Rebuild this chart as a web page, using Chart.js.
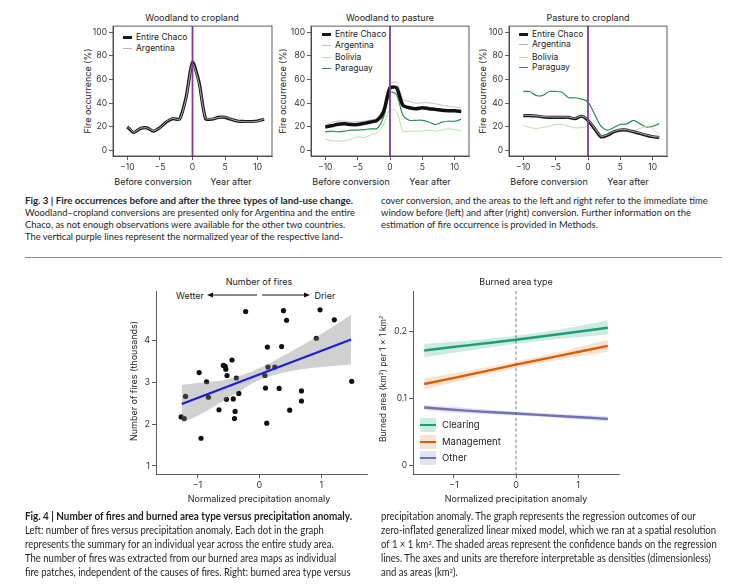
<!DOCTYPE html>
<html>
<head>
<meta charset="utf-8">
<script src="https://cdn.jsdelivr.net/npm/chart.js@4.4.1/dist/chart.umd.min.js"></script>
<style>
  body { margin: 0; width: 733px; height: 587px; position: relative; overflow: hidden; background: #fff; font-family: Inter, "Noto Sans", sans-serif; color: #222; }
  canvas { position: absolute; }
  .t { position: absolute; white-space: nowrap; transform: translate(-50%, -50%); line-height: 1; }
  .rot { transform: translate(-50%, -50%) rotate(-90deg); }
  .lg { position: absolute; white-space: nowrap; transform: translateY(-50%); line-height: 1; font-size: 8.5px; }
  .sw { position: absolute; width: 9px; }
  .cap3, .cap4 { position: absolute; white-space: nowrap; line-height: 1; font-family: Lato, "Noto Sans", sans-serif; color: #1e1e1e; transform-origin: left center; transform: translateY(-50%); }
  .cap3 { font-size: 10px; }
  .cap4 { font-size: 10.5px; }
  .cap3 b, .cap4 b { font-weight: 700; }
  sup { font-size: 0.6em; vertical-align: 0.5em; line-height: 0; }
</style>
</head>
<body>

<!-- Fig. 3 Titel und Achsenbeschriftungen -->
<div class="t" style="left:192px;top:17px;font-size:9px">Woodland to cropland</div>
<div class="t" style="left:390px;top:17px;font-size:9px">Woodland to pasture</div>
<div class="t" style="left:588px;top:17px;font-size:9px">Pasture to cropland</div>

<div class="t rot" style="left:87px;top:91px;font-size:9px">Fire occurrence (%)</div>
<div class="t rot" style="left:282px;top:91px;font-size:9px">Fire occurrence (%)</div>
<div class="t rot" style="left:482px;top:91px;font-size:9px">Fire occurrence (%)</div>

<div class="t" style="left:153px;top:181px;font-size:9px">Before conversion</div>
<div class="t" style="left:231px;top:181px;font-size:9px">Year after</div>
<div class="t" style="left:351px;top:181px;font-size:9px">Before conversion</div>
<div class="t" style="left:430px;top:181px;font-size:9px">Year after</div>
<div class="t" style="left:549px;top:181px;font-size:9px">Before conversion</div>
<div class="t" style="left:628px;top:181px;font-size:9px">Year after</div>

<!-- Legenden Fig. 3 -->
<div class="sw" style="left:123px;top:36px;height:2.5px;background:#1a1a1a"></div>
<div class="lg" style="left:136px;top:37px">Entire Chaco</div>
<div class="sw" style="left:123px;top:47.5px;height:1px;background:#b4b4b4"></div>
<div class="lg" style="left:136px;top:48px">Argentina</div>

<div class="sw" style="left:322px;top:33px;height:2.5px;background:#1a1a1a"></div>
<div class="lg" style="left:335px;top:34px">Entire Chaco</div>
<div class="sw" style="left:322px;top:44.5px;height:1px;background:#c4b8d4"></div>
<div class="lg" style="left:335px;top:45px">Argentina</div>
<div class="sw" style="left:322px;top:56.5px;height:1px;background:#b5dea8"></div>
<div class="lg" style="left:335px;top:57px">Bolivia</div>
<div class="sw" style="left:322px;top:67.5px;height:1.3px;background:#2a8a55"></div>
<div class="lg" style="left:335px;top:68px">Paraguay</div>

<div class="sw" style="left:519px;top:33px;height:2.5px;background:#1a1a1a"></div>
<div class="lg" style="left:532px;top:34px">Entire Chaco</div>
<div class="sw" style="left:519px;top:43.5px;height:1px;background:#b8b0c8"></div>
<div class="lg" style="left:532px;top:44px">Argentina</div>
<div class="sw" style="left:519px;top:56.5px;height:1px;background:#b5dea8"></div>
<div class="lg" style="left:532px;top:57px">Bolivia</div>
<div class="sw" style="left:519px;top:66.5px;height:1.3px;background:#2a8a55"></div>
<div class="lg" style="left:532px;top:67px">Paraguay</div>

<canvas id="wc"></canvas>
<canvas id="wp"></canvas>
<canvas id="pc"></canvas>

<!-- Bildunterschrift Fig. 3 -->
<div class="cap3" style="left:25px;top:200px" data-w="328"><b>Fig. 3 | Fire occurrences before and after the three types of land-use change.</b></div>
<div class="cap3" style="left:25px;top:212px" data-ref="330">Woodland–cropland conversions are presented only for Argentina and the entire</div>
<div class="cap3" style="left:25px;top:224px">Chaco, as not enough observations were available for the other two countries.</div>
<div class="cap3" style="left:25px;top:236px">The vertical purple lines represent the normalized year of the respective land-</div>
<div class="cap3" style="left:381px;top:200px">cover conversion, and the areas to the left and right refer to the immediate time</div>
<div class="cap3" style="left:381px;top:212px">window before (left) and after (right) conversion. Further information on the</div>
<div class="cap3" style="left:381px;top:224px">estimation of fire occurrence is provided in Methods.</div>

<div style="position:absolute;left:25px;top:257px;width:697px;height:1px;background:#8a8a8a"></div>

<!-- Fig. 4 links -->
<div class="t" style="left:259px;top:281px;font-size:9px">Number of fires</div>
<div class="t" style="left:190px;top:295px;font-size:9px">Wetter</div>
<div class="t" style="left:325px;top:295px;font-size:9px">Drier</div>
<svg style="position:absolute;left:0;top:0" width="733" height="587">
  <line x1="257" y1="295" x2="211" y2="295" stroke="#111" stroke-width="1"/>
  <polygon points="207,295 213,292.6 213,297.4" fill="#111"/>
  <line x1="262" y1="295" x2="306" y2="295" stroke="#111" stroke-width="1"/>
  <polygon points="310,295 304,292.6 304,297.4" fill="#111"/>
</svg>
<div class="t rot" style="left:133px;top:381px;font-size:9px">Number of fires (thousands)</div>
<div class="t" style="left:259px;top:498px;font-size:9px">Normalized precipitation anomaly</div>

<!-- Fig. 4 rechts -->
<div class="t" style="left:516px;top:281px;font-size:9px">Burned area type</div>
<div class="t rot" style="left:383px;top:379px;font-size:8.5px">Burned area (km<sup>2</sup>) per 1 × 1 km<sup>2</sup></div>
<div class="t" style="left:516px;top:498px;font-size:9px">Normalized precipitation anomaly</div>

<div style="position:absolute;left:420px;top:418px;width:16px;height:14px;background:rgba(27,158,119,0.22)"></div>
<div style="position:absolute;left:420px;top:424px;width:16px;height:2.4px;background:#1b9e77"></div>
<div class="lg" style="left:442px;top:425px;font-size:9.5px">Clearing</div>
<div style="position:absolute;left:420px;top:435px;width:16px;height:14px;background:rgba(217,95,2,0.18)"></div>
<div style="position:absolute;left:420px;top:441px;width:16px;height:2.4px;background:#d95f02"></div>
<div class="lg" style="left:442px;top:442px;font-size:9.5px">Management</div>
<div style="position:absolute;left:420px;top:451px;width:16px;height:14px;background:rgba(117,112,179,0.2)"></div>
<div style="position:absolute;left:420px;top:457px;width:16px;height:2.4px;background:#7570b3"></div>
<div class="lg" style="left:442px;top:458px;font-size:9.5px">Other</div>

<canvas id="fires"></canvas>
<canvas id="burned"></canvas>

<!-- Bildunterschrift Fig. 4 -->
<div class="cap4" style="left:25px;top:516px" data-w="327"><b>Fig. 4 | Number of fires and burned area type versus precipitation anomaly.</b></div>
<div class="cap4" style="left:25px;top:530px">Left: number of fires versus precipitation anomaly. Each dot in the graph</div>
<div class="cap4" style="left:25px;top:544px">represents the summary for an individual year across the entire study area.</div>
<div class="cap4" style="left:25px;top:558px">The number of fires was extracted from our burned area maps as individual</div>
<div class="cap4" style="left:25px;top:572px">fire patches, independent of the causes of fires. Right: burned area type versus</div>
<div class="cap4" style="left:381px;top:516px">precipitation anomaly. The graph represents the regression outcomes of our</div>
<div class="cap4" style="left:381px;top:530px" data-ref="335">zero-inflated generalized linear mixed model, which we ran at a spatial resolution</div>
<div class="cap4" style="left:381px;top:544px">of 1 × 1 km<sup>2</sup>. The shaded areas represent the confidence bands on the regression</div>
<div class="cap4" style="left:381px;top:558px">lines. The axes and units are therefore interpretable as densities (dimensionless)</div>
<div class="cap4" style="left:381px;top:572px">and as areas (km<sup>2</sup>).</div>

<script>
// Fig. 3: Jahre relativ zur Umwandlung
let years = [-10, -9, -8, -7, -6, -5, -4, -3, -2, -1, 0, 1, 2, 3, 4, 5, 6, 7, 8, 9, 10, 11];
let yearTicks = [-10, -5, 0, 5, 10];
let occurrenceTicks = [0, 20, 40, 60, 80, 100];

// Woodland to cropland
let wcChaco = [20, 15.3, 18.7, 19.2, 16.4, 19.5, 24.2, 27, 26.5, 44.6, 74.4, 57.7, 27, 26.5, 28.1, 28.1, 26.2, 24.8, 24.6, 24.6, 25, 26.5];
let wcArgentina = [20.3, 15.6, 18.9, 19.2, 16.7, 19.3, 24.5, 27.3, 26.2, 43.8, 73.2, 56.5, 27.3, 26.8, 27.9, 28.3, 26.4, 24.9, 24.4, 24.4, 24.8, 26.9];

// Woodland to pasture
let wpChaco = [20, 21, 22.3, 22.6, 22, 22, 23, 24.2, 25.6, 32.6, 52.9, 53, 38.2, 36.2, 35.4, 36.2, 35.4, 34.8, 34, 33.7, 33.7, 33.1];
let wpArgentina = [21.4, 23.7, 25, 24.8, 24.2, 24.5, 24.8, 26, 27, 36, 55.7, 57.7, 43, 41.5, 40, 40.4, 40.4, 39.5, 38.4, 37.3, 36.8, 36.2];
let wpBolivia = [9.7, 8.4, 8, 8.4, 9.7, 11.7, 11.1, 13, 15, 22, 34.8, 33.4, 16.4, 16.4, 16.4, 16.4, 17.3, 16.4, 17.3, 18.4, 17.8, 16.4];
let wpParaguay = [15.9, 16.4, 15.9, 16.4, 17.3, 17.3, 17.8, 18.4, 18.7, 28.4, 49.3, 47.4, 29.8, 25.6, 25.6, 25.6, 24.2, 22, 24, 24.8, 24.8, 26.5];

// Pasture to cropland
let pcChaco = [29.5, 29.5, 29.2, 28.4, 28.1, 28.1, 28.1, 28.1, 27, 29, 25.6, 18.7, 11.7, 13, 15.9, 17.3, 17.3, 15.9, 14.5, 13, 11.7, 11.1];
let pcArgentina = [29.8, 29.7, 29.4, 28.7, 28.4, 28.3, 28.4, 28.3, 27.4, 29.3, 26.2, 19.2, 12.2, 13.4, 16.3, 17.7, 17.6, 16.2, 14.8, 13.3, 12, 11.4];
let pcBolivia = [21.4, 19.5, 18.7, 19.5, 20.6, 22, 22, 20.6, 19.2, 19.5, 20, 17.3, 14.5, 13, 15.9, 17.8, 17.3, 16.4, 18.7, 20.6, 18.7, 13];
let pcParaguay = [49.9, 49.9, 46.5, 46.5, 49.9, 49.9, 49.3, 44.6, 44.6, 43.5, 41, 31, 20.6, 17.3, 19.5, 22.3, 22.6, 25.6, 22.8, 20, 20.6, 22.8];

// Fig. 4 links: ein Punkt pro Jahr
let anomaly = [-1.26, -1.21, -1.19, -0.94, -0.97, -0.85, -0.82, -0.65, -0.58, -0.55, -0.54, -0.52, -0.53, -0.44, -0.37, -0.42, -0.33, -0.39, -0.40, -0.22, 0.09, 0.10, 0.13, 0.14, 0.12, 0.25, 0.36, 0.39, 0.44, 0.32, 0.49, 0.68, 0.68, 0.92, 0.98, 1.21, 1.49];
let fireCount = [2.17, 2.13, 2.66, 1.66, 3.23, 3.01, 2.64, 2.34, 3.40, 3.38, 3.31, 3.16, 2.59, 3.53, 3.10, 2.60, 2.73, 2.30, 2.13, 4.69, 3.16, 2.86, 3.84, 3.36, 2.02, 3.36, 3.85, 4.71, 4.48, 2.85, 2.33, 2.79, 2.55, 4.05, 4.73, 4.49, 3.02];
let fitX = [-1.25, 1.48];
let fitY = [2.48, 4.02];
let bandX = [-1.25, -1, -0.5, 0, 0.5, 1, 1.48];
let bandUpper = [2.93, 2.98, 3.07, 3.33, 3.72, 4.15, 4.61];
let bandLower = [2.03, 2.19, 2.62, 3.05, 3.26, 3.36, 3.42];
let fireTicks = [1, 2, 3, 4];
let anomalyTicks = [-1, 0, 1];

// Fig. 4 rechts: Regressionslinien
let typeX = [-1.48, -0.75, 0, 0.75, 1.48];
let clearing = [0.172, 0.180, 0.188, 0.197, 0.206];
let clearingUpper = [0.182, 0.187, 0.194, 0.204, 0.217];
let clearingLower = [0.162, 0.172, 0.182, 0.190, 0.196];
let management = [0.122, 0.136, 0.151, 0.165, 0.179];
let managementUpper = [0.130, 0.142, 0.156, 0.171, 0.188];
let managementLower = [0.114, 0.130, 0.146, 0.159, 0.170];
let other = [0.087, 0.082, 0.078, 0.074, 0.070];
let otherUpper = [0.091, 0.086, 0.081, 0.077, 0.074];
let otherLower = [0.083, 0.078, 0.075, 0.071, 0.066];
let areaTicks = [0, 0.1, 0.2];

Chart.defaults.font.family = 'Inter, "Noto Sans", sans-serif';
Chart.defaults.font.size = 8.5;
Chart.defaults.color = '#333';

let minus = v => (v < 0 ? '\u2212' + Math.abs(v) : String(v));
let pts = (xs, ys) => xs.map((x, i) => ({ x: x, y: ys[i] }));

// Canvas so legen, dass die Zeichenfläche genau auf dem Rahmen liegt
function placeCanvas(id, area, pad) {
  let c = document.getElementById(id);
  let w = area.r - area.l + pad.l + pad.r, h = area.b - area.t + pad.t + pad.b;
  c.width = w; c.height = h;
  c.style.left = (area.l - pad.l) + 'px';
  c.style.top = (area.t - pad.t) + 'px';
  c.style.width = w + 'px';
  c.style.height = h + 'px';
  return c;
}

let frame = {
  id: 'frame',
  afterDraw(chart) {
    let a = chart.chartArea, ctx = chart.ctx;
    ctx.save();
    ctx.strokeStyle = '#333';
    ctx.lineWidth = 0.8;
    ctx.strokeRect(a.left, a.top, a.right - a.left, a.bottom - a.top);
    ctx.restore();
  }
};

let zeroLine = {
  id: 'zeroLine',
  afterDatasetsDraw(chart, args, o) {
    let x = chart.scales.x.getPixelForValue(0), a = chart.chartArea, ctx = chart.ctx;
    ctx.save();
    ctx.strokeStyle = o.color;
    ctx.lineWidth = o.width;
    ctx.setLineDash(o.dash || []);
    ctx.beginPath();
    ctx.moveTo(x, a.top);
    ctx.lineTo(x, a.bottom);
    ctx.stroke();
    ctx.restore();
  }
};

function axis(min, max, ticks, fitKey, size, fmt) {
  return {
    type: 'linear', min: min, max: max,
    afterFit: s => { s[fitKey] = size; },
    afterBuildTicks: s => { s.ticks = ticks.map(v => ({ value: v })); },
    grid: { drawOnChartArea: false, drawTicks: true, tickLength: 4, tickColor: '#333', lineWidth: 0.8 },
    border: { display: true, color: '#333', width: 0.8 },
    ticks: { padding: 2, color: '#333', callback: fmt || minus }
  };
}

function baseOptions(pad, xs, ys) {
  return {
    responsive: false, animation: false, events: [],
    layout: { padding: { left: 0, top: pad.t, right: pad.r, bottom: 0 } },
    plugins: { legend: { display: false }, tooltip: { enabled: false } },
    scales: { x: xs, y: ys }
  };
}

// Fig. 3 Panels
function fireChart(id, area, sets) {
  let pad = { l: 30, t: 6, r: 6, b: 20 };
  let c = placeCanvas(id, area, pad);
  let opts = baseOptions(pad,
    axis(-12.2, 12.2, yearTicks, 'height', pad.b),
    axis(-4.5, 105, occurrenceTicks, 'width', pad.l));
  opts.plugins.zeroLine = { color: '#7d3c98', width: 1.8 };
  return new Chart(c, {
    type: 'line',
    data: {
      datasets: sets.map(s => ({
        data: pts(years, s.values), borderColor: s.color, borderWidth: s.width,
        pointRadius: 0, tension: 0.25, fill: false, order: s.order
      }))
    },
    options: opts,
    plugins: [frame, zeroLine]
  });
}

fireChart('wc', { l: 113, t: 25, r: 272, b: 156 }, [
  { values: wcArgentina, color: '#b4b4b4', width: 1, order: 0 },
  { values: wcChaco, color: '#1a1a1a', width: 3.2, order: 1 }
]);

fireChart('wp', { l: 311, t: 25, r: 469, b: 156 }, [
  { values: wpChaco, color: '#111', width: 3.5, order: 0 },
  { values: wpArgentina, color: '#c4b8d4', width: 1, order: 1 },
  { values: wpBolivia, color: '#b5dea8', width: 1, order: 2 },
  { values: wpParaguay, color: '#2a8a55', width: 1.2, order: 2 }
]);

fireChart('pc', { l: 509, t: 25, r: 667, b: 156 }, [
  { values: pcArgentina, color: '#b8b0c8', width: 1, order: 0 },
  { values: pcChaco, color: '#1a1a1a', width: 3.2, order: 1 },
  { values: pcBolivia, color: '#b5dea8', width: 1, order: 2 },
  { values: pcParaguay, color: '#2a8a55', width: 1.2, order: 2 }
]);

// Fig. 4 links: Streudiagramm mit Regressionsgerade
(function () {
  let pad = { l: 30, t: 4, r: 6, b: 20 };
  let c = placeCanvas('fires', { l: 156, t: 288, r: 367, b: 474 }, pad);
  let xs = axis(-1.666, 1.737, anomalyTicks, 'height', pad.b);
  let ys = axis(0.805, 5.17, fireTicks, 'width', pad.l);
  xs.ticks.font = { size: 9 };
  ys.ticks.font = { size: 9 };
  new Chart(c, {
    type: 'scatter',
    data: {
      datasets: [
        { data: pts(bandX, bandUpper), showLine: true, borderWidth: 0, pointRadius: 0, fill: '+1', backgroundColor: 'rgba(128,128,128,0.37)', cubicInterpolationMode: 'monotone', order: 1 },
        { data: pts(bandX, bandLower), showLine: true, borderWidth: 0, pointRadius: 0, fill: false, cubicInterpolationMode: 'monotone', order: 1 },
        { data: pts(fitX, fitY), showLine: true, borderColor: '#1c1cd6', borderWidth: 2.2, pointRadius: 0, order: 0 },
        { data: pts(anomaly, fireCount), pointRadius: 2.6, pointBackgroundColor: '#111', pointBorderWidth: 0, order: 2 }
      ]
    },
    options: baseOptions(pad, xs, ys)
  });
})();

// Fig. 4 rechts: Brandflächentypen
(function () {
  let pad = { l: 30, t: 4, r: 6, b: 20 };
  let c = placeCanvas('burned', { l: 413, t: 288, r: 619, b: 474 }, pad);
  let xs = axis(-1.66, 1.66, anomalyTicks, 'height', pad.b);
  let ys = axis(-0.0122, 0.2606, areaTicks, 'width', pad.l);
  xs.ticks.font = { size: 9 };
  let opts = baseOptions(pad, xs, ys);
  opts.plugins.zeroLine = { color: '#555', width: 0.8, dash: [3, 2.5] };
  let band = (ys2, col) => ({ data: pts(typeX, ys2), showLine: true, borderWidth: 0, pointRadius: 0, fill: '+1', backgroundColor: col, tension: 0.3, order: 2 });
  let edge = ys2 => ({ data: pts(typeX, ys2), showLine: true, borderWidth: 0, pointRadius: 0, fill: false, tension: 0.3, order: 2 });
  let line = (ys2, col) => ({ data: pts(typeX, ys2), showLine: true, borderColor: col, borderWidth: 2.4, pointRadius: 0, tension: 0.3, order: 1 });
  new Chart(c, {
    type: 'scatter',
    data: {
      datasets: [
        band(clearingUpper, 'rgba(27,158,119,0.22)'), edge(clearingLower),
        band(managementUpper, 'rgba(217,95,2,0.18)'), edge(managementLower),
        band(otherUpper, 'rgba(117,112,179,0.2)'), edge(otherLower),
        line(clearing, '#1b9e77'), line(management, '#d95f02'), line(other, '#7570b3')
      ]
    },
    options: opts,
    plugins: [zeroLine]
  });
})();

// Bildunterschriften auf die Spaltenbreite stauchen
function fitLines(cls) {
  let lines = document.querySelectorAll('.' + cls);
  let k = 1;
  lines.forEach(el => { if (el.dataset.ref) k = +el.dataset.ref / el.getBoundingClientRect().width; });
  lines.forEach(el => {
    let f = el.dataset.w ? +el.dataset.w / el.getBoundingClientRect().width : k;
    el.style.transform = 'translateY(-50%) scaleX(' + f + ')';
  });
}
document.fonts.ready.then(() => { fitLines('cap3'); fitLines('cap4'); });
</script>
</body>
</html>
